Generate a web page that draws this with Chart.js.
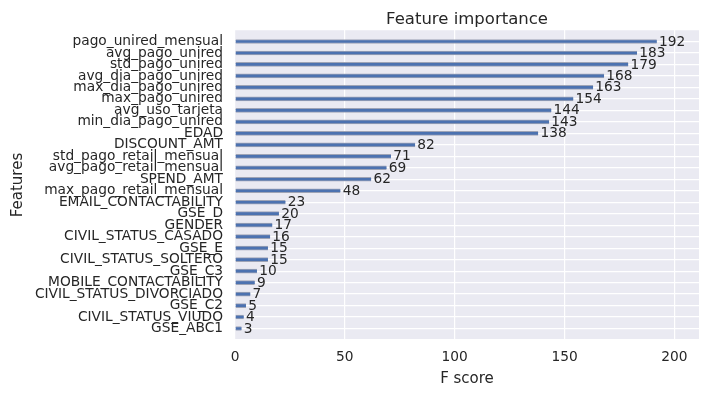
<!DOCTYPE html>
<html>
<head>
<meta charset="utf-8">
<script src="https://cdn.jsdelivr.net/npm/chart.js@4/dist/chart.umd.min.js"></script>
<style>
  html, body { margin: 0; padding: 0; background: #ffffff; }
  #c { display: block; }
</style>
</head>
<body>
<canvas id="c" width="709" height="396"></canvas>
<script>
const features = [
  "pago_unired_mensual", "avg_pago_unired", "std_pago_unired", "avg_dia_pago_unired",
  "max_dia_pago_unired", "max_pago_unired", "avg_uso_tarjeta", "min_dia_pago_unired",
  "EDAD", "DISCOUNT_AMT", "std_pago_retail_mensual", "avg_pago_retail_mensual",
  "SPEND_AMT", "max_pago_retail_mensual", "EMAIL_CONTACTABILITY", "GSE_D",
  "GENDER", "CIVIL_STATUS_CASADO", "GSE_E", "CIVIL_STATUS_SOLTERO",
  "GSE_C3", "MOBILE_CONTACTABILITY", "CIVIL_STATUS_DIVORCIADO", "GSE_C2",
  "CIVIL_STATUS_VIUDO", "GSE_ABC1"
];
const fScores = [192, 183, 179, 168, 163, 154, 144, 143, 138, 82, 71, 69, 62, 48, 23, 20, 17, 16, 15, 15, 10, 9, 7, 5, 4, 3];
const xTicks = [0, 50, 100, 150, 200];
const chartTitle = "Feature importance";
const xTitle = "F score";
const yTitle = "Features";

// one empty slot above and below, as in the original axis limits
const labels = [""].concat(features, [""]);
const values = [null].concat(fScores, [null]);
const xMax = Math.max.apply(null, fScores) * 1.1;

const TEXT = "#262626";
const FONT = "'DejaVu Sans', sans-serif";

const bgPlugin = {
  id: "bg",
  beforeDraw(chart) {
    const {ctx, chartArea: a} = chart;
    ctx.save();
    ctx.fillStyle = "#EAEAF2";
    ctx.fillRect(a.left, a.top, a.right - a.left, a.bottom - a.top);
    ctx.restore();
  }
};

const labelPlugin = {
  id: "vlabels",
  afterDatasetsDraw(chart) {
    const {ctx, scales} = chart;
    ctx.save();
    ctx.fillStyle = TEXT;
    ctx.font = "13.75px " + FONT;
    ctx.textAlign = "left";
    ctx.textBaseline = "middle";
    values.forEach((v, i) => {
      if (v === null) return;
      const x = scales.x.getPixelForValue(v + 1);
      const y = scales.y.getPixelForValue(i);
      ctx.fillText(String(v), x, y + 0.5);
    });
    // title centred over the plot area
    const a = chart.chartArea;
    ctx.font = "16.5px " + FONT;
    ctx.textAlign = "center";
    ctx.textBaseline = "alphabetic";
    ctx.fillText(chartTitle, (a.left + a.right) / 2, 24);
    ctx.restore();
  }
};

new Chart(document.getElementById("c"), {
  type: "bar",
  data: {
    labels: labels,
    datasets: [{
      data: values,
      backgroundColor: "#4C72B0",
      borderColor: "rgba(150,156,175,0.9)",
      borderWidth: {top: 1, bottom: 1, left: 0, right: 0},
      borderSkipped: false,
      barThickness: 4
    }]
  },
  plugins: [bgPlugin, labelPlugin],
  options: {
    indexAxis: "y",
    responsive: false,
    animation: false,
    devicePixelRatio: 1,
    layout: { padding: { top: 30, right: 10, left: 0, bottom: 0 } },
    plugins: {
      legend: { display: false },
      tooltip: { enabled: false },
      title: { display: false }
    },
    scales: {
      x: {
        type: "linear",
        min: 0,
        max: xMax,
        afterBuildTicks(scale) { scale.ticks = xTicks.map(v => ({value: v})); },
        afterFit(scale) { scale.height = 56; },
        border: { display: false },
        grid: { color: "#ffffff", lineWidth: 1.2, drawTicks: false },
        ticks: { color: TEXT, font: { family: FONT, size: 13.75 }, padding: 9, maxRotation: 0 },
        title: { display: true, text: xTitle, color: TEXT, font: { family: FONT, size: 15 }, padding: { top: 0, bottom: 8 } }
      },
      y: {
        type: "category",
        offset: false,
        afterFit(scale) { scale.width = 235; },
        border: { display: false },
        grid: { color: "#ffffff", lineWidth: 1.2, drawTicks: false, offset: false },
        ticks: { color: TEXT, font: { family: FONT, size: 13.75 }, padding: 12, autoSkip: false },
        title: { display: true, text: yTitle, color: TEXT, font: { family: FONT, size: 15 }, padding: { top: 9, bottom: 0 } }
      }
    }
  }
});
</script>
</body>
</html>
